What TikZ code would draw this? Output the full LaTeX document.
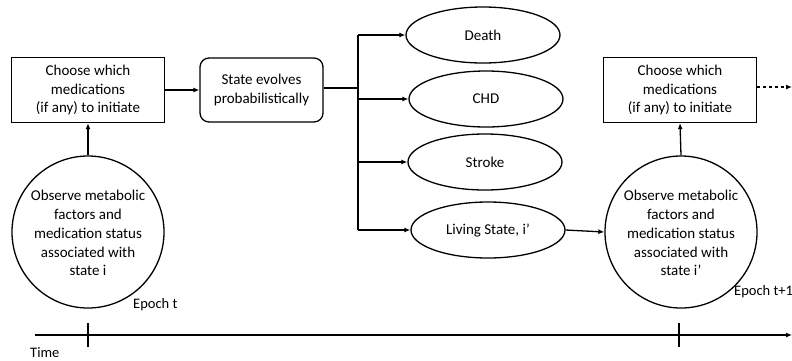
\documentclass[tikz,border=0pt]{standalone}
\usepackage{fontspec}
\setmainfont{Carlito}
\usetikzlibrary{shapes.geometric,arrows.meta}
\begin{document}
\begin{tikzpicture}[x=1pt,y=-1pt,
  every node/.style={font=\fontsize{15}{18.7}\selectfont, align=center, inner sep=0pt},
  ln/.style={line width=1.3pt},
  arr/.style={ln, -{Latex[length=6pt,width=5pt]}},
  sqbox/.style={draw, ln, rectangle, minimum width=153pt, minimum height=65pt},
  rbox/.style={draw, ln, rectangle, rounded corners=9pt, minimum width=123pt, minimum height=64pt},
  ell/.style={draw, ln, ellipse, minimum width=154pt, minimum height=56pt},
  circ/.style={draw, ln, circle, minimum size=152pt},
  lbl/.style={font=\fontsize{14.5}{17}\selectfont}]
\useasboundingbox (0,0) rectangle (792,360);
\node[sqbox] (box1) at (88,90) {Choose which\\medications\\(if any) to initiate};
\node[rbox] (box2) at (261.5,90) {State evolves\\probabilistically};
\node[ell] (death) at (483,35) {Death};
\node[ell] (chd) at (486,99) {CHD};
\node[ell] (stroke) at (485,162) {Stroke};
\node[ell] (living) at (488,230) {Living State, i’};
\node[circ] (c1) at (88,232) {\mbox{}\\[-6pt]Observe metabolic\\factors and\\medication status\\associated with\\state i};
\node[sqbox] (box3) at (680,90) {Choose which\\medications\\(if any) to initiate};
\node[circ] (c2) at (681,232) {\mbox{}\\[-6pt]Observe metabolic\\factors and\\medication status\\associated with\\state i’};
\coordinate (jn) at (358,88);
\coordinate (dend) at (792,87);
\coordinate (tstart) at (35,335);
\coordinate (tend) at (792,335);
\node[lbl, anchor=west] (time) at (30,353) {Time};
\node[lbl, anchor=west] (ep1) at (133,305) {Epoch t};
\node[lbl, anchor=west] (ep2) at (734,292) {Epoch t+1};
% connectors
\draw[arr] (box1.east) -- (box2.west);
\draw[ln] (box2.east |- jn) -- (jn);
\draw[ln] (jn |- death.west) -- (jn |- living.west);
\draw[arr] (jn |- death.west) -- (death.west);
\draw[arr] (jn |- chd.west) -- (chd.west);
\draw[arr] (jn |- stroke.west) -- (stroke.west);
\draw[arr] (jn |- living.west) -- (living.west);
\draw[arr] (living.east) -- (c2.west);
\draw[arr] (c1.north) -- (box1.south);
\draw[arr] (c2.north) -- (box3.south);
\draw[arr, dashed] (box3.east |- dend) -- (dend);
% time axis
\draw[arr] (tstart) -- (tend);
\draw[ln] (88,323) -- (88,347);
\draw[ln] (679,323) -- (679,347);
\end{tikzpicture}
\end{document}
